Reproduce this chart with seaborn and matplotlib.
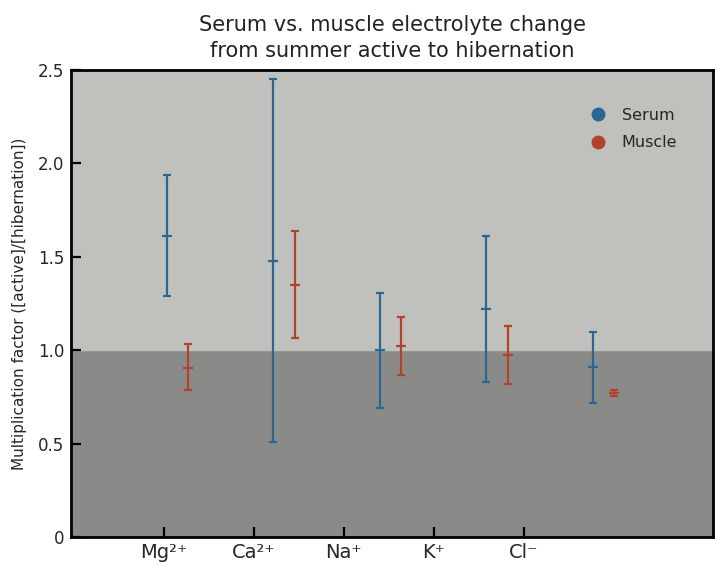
import numpy as np
import matplotlib
matplotlib.use("Agg")
import matplotlib.pyplot as plt
import seaborn as sns
from matplotlib.lines import Line2D

# ions on the x axis
ions = ["Mg²⁺", "Ca²⁺", "Na⁺", "K⁺", "Cl⁻"]

# multiplication factor [active]/[hibernation]: mean, lower, upper
serum_mean = [1.61, 1.48, 1.00, 1.22, 0.91]
serum_low = [1.29, 0.51, 0.69, 0.83, 0.72]
serum_high = [1.94, 2.45, 1.305, 1.61, 1.10]

muscle_mean = [0.905, 1.35, 1.025, 0.975, 0.77]
muscle_low = [0.785, 1.065, 0.865, 0.82, 0.755]
muscle_high = [1.035, 1.64, 1.18, 1.13, 0.785]

serum_color = "#2a6796"
muscle_color = "#b0442b"
upper_bg = "#c0c1bc"
lower_bg = "#8a8b88"

sns.set_style("ticks")
plt.rcParams["font.family"] = ["DejaVu Sans"]

fig = plt.figure(figsize=(7.23, 5.78), dpi=100)
ax = fig.add_axes([0.0982, 0.0709, 0.8880, 0.8080])

ax.set_facecolor(lower_bg)
ax.axhspan(1.0, 2.5, color=upper_bg, zorder=0)

x = np.arange(len(ions))
offset = 0.2

def draw(xpos, mean, low, high, color):
	mean = np.array(mean)
	err = np.vstack([mean - np.array(low), np.array(high) - mean])
	ax.errorbar(xpos, mean, yerr=err, fmt="_", color=color, ecolor=color,
		markersize=6.5, markeredgewidth=1.6, elinewidth=1.6,
		capsize=3.1, capthick=1.6, zorder=3)

draw(x, serum_mean, serum_low, serum_high, serum_color)
draw(x + offset, muscle_mean, muscle_low, muscle_high, muscle_color)

ax.set_xlim(-0.90, 5.13)
ax.set_ylim(0, 2.5)

# category ticks are spaced a bit tighter than the data in the original
tick_pos = -0.03 + 0.845 * x
ax.set_xticks(tick_pos)
ax.set_xticklabels(ions, fontsize=14)
ax.set_yticks([0, 0.5, 1.0, 1.5, 2.0, 2.5])
ax.set_yticklabels(["0", "0.5", "1.0", "1.5", "2.0", "2.5"], fontsize=12)
ax.tick_params(direction="in", length=7.5, width=1.6, color="black")
ax.tick_params(axis="x", pad=4)
ax.tick_params(axis="y", pad=5)

for s in ax.spines.values():
	s.set_visible(True)
	s.set_linewidth(2)
	s.set_color("black")

ax.set_ylabel("Multiplication factor ([active]/[hibernation])", fontsize=11, labelpad=8)
ax.set_title("Serum vs. muscle electrolyte change\nfrom summer active to hibernation",
	fontsize=15, color="#222222", pad=9, linespacing=1.4)

handles = [
	Line2D([], [], marker="o", linestyle="", color=serum_color, markersize=9, label="Serum"),
	Line2D([], [], marker="o", linestyle="", color=muscle_color, markersize=9, label="Muscle"),
]
ax.legend(handles=handles, loc="upper left", bbox_to_anchor=(0.773, 0.95),
	frameon=False, fontsize=11.5, handletextpad=0.5, labelspacing=0.8)

fig.savefig("out.png", dpi=100)
